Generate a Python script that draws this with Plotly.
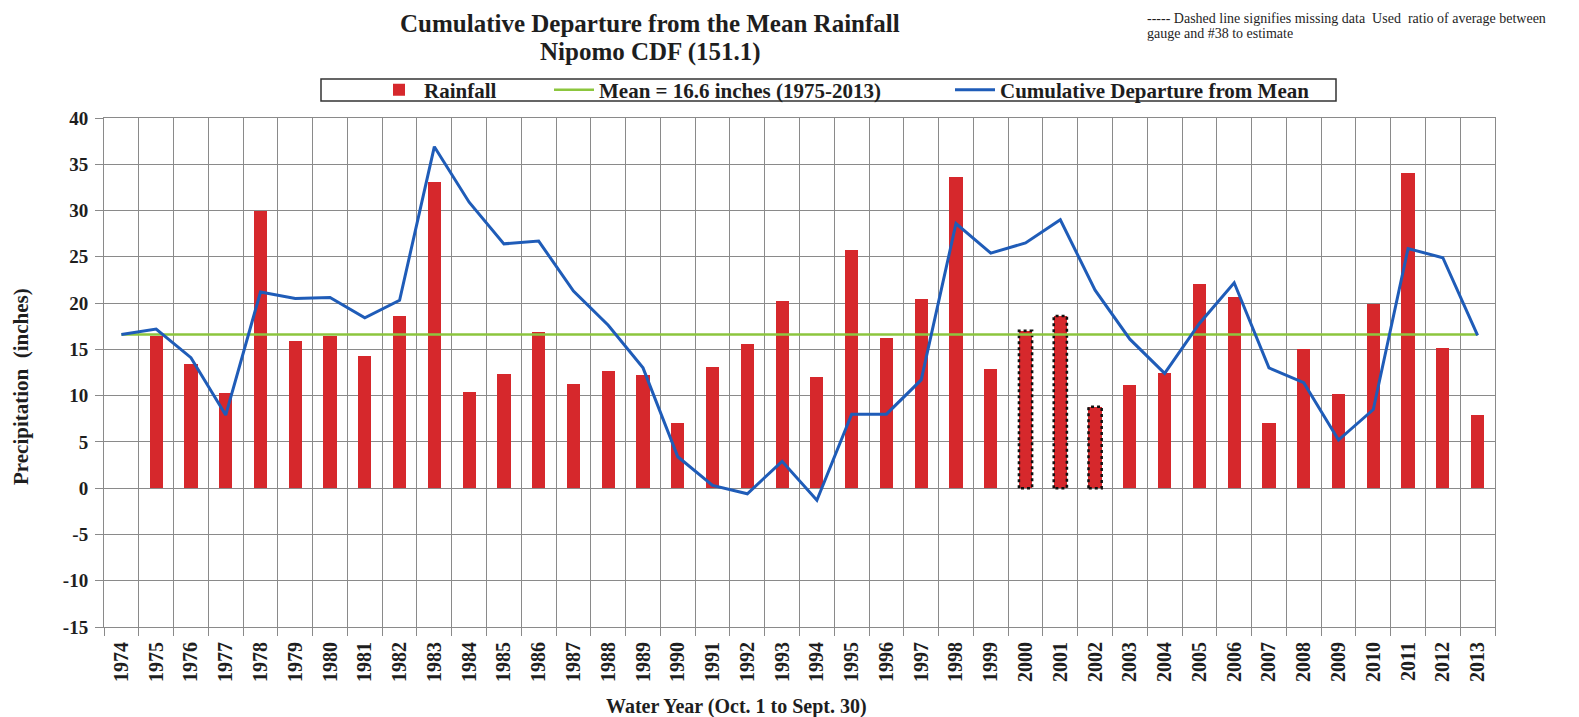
import plotly.graph_objects as go

years = [str(y) for y in range(1974, 2014)]
# Rainfall per water year (1974 has no bar)
rain_years = years[1:]
rainfall = [16.4, 13.4, 10.3, 30.0, 15.9, 16.4, 14.3, 18.6, 33.1, 10.4,
            12.3, 16.9, 11.3, 12.7, 12.2, 7.0, 13.1, 15.6, 20.2, 12.0,
            25.7, 16.2, 20.4, 33.6, 12.9, 17.0, 18.6, 8.8, 11.2, 12.4,
            22.1, 20.7, 7.0, 15.0, 10.2, 19.9, 34.1, 15.2, 7.9]
mean_value = 16.6
cumulative = [16.6, 17.2, 14.1, 7.9, 21.2, 20.5, 20.6, 18.4, 20.3, 36.9,
              30.9, 26.4, 26.7, 21.3, 17.6, 13.0, 3.4, 0.3, -0.6, 2.9,
              -1.3, 8.0, 8.0, 11.7, 28.6, 25.4, 26.5, 29.0, 21.4, 16.1,
              12.4, 17.8, 22.2, 13.0, 11.4, 5.2, 8.5, 25.9, 24.9, 16.5]
missing_years = ["2000", "2001", "2002"]
y_ticks = list(range(-15, 45, 5))

SERIF = "Liberation Serif"
TXT = "#1e1e1e"
W_FIG, H_FIG = 1579, 717
L, R, T, B = 96, 1487, 110, 619
PW, PH = R - L, B - T


def xp(px):
    return (px - L) / PW


def yp(py):
    return (B - py) / PH


idx = {y: i for i, y in enumerate(years)}
bar_x = [idx[y] for y in rain_years]
BW = 0.38

fig = go.Figure()
fig.add_trace(go.Bar(x=bar_x, y=rainfall, name="<b>Rainfall</b>", width=BW,
                     marker=dict(color="#d6282c", line=dict(width=0)),
                     legend="legend"))

# dashed outlines for estimated (missing-data) years
ox, oy = [], []
for y in missing_years:
    i = idx[y]
    v = rainfall[rain_years.index(y)]
    ox += [i - BW / 2, i - BW / 2, i + BW / 2, i + BW / 2, i - BW / 2, None]
    oy += [0, v, v, 0, 0, None]
fig.add_trace(go.Scatter(x=ox, y=oy, mode="lines", showlegend=False,
                         line=dict(color="#111111", width=2.5, dash="dot"),
                         hoverinfo="skip"))

fig.add_trace(go.Scatter(x=list(range(len(years))), y=[mean_value] * len(years),
                         mode="lines", name="<b>Mean = 16.6 inches (1975-2013)</b>",
                         line=dict(color="#8cc63e", width=2.5), legend="legend2"))
fig.add_trace(go.Scatter(x=list(range(len(years))), y=cumulative, mode="lines",
                         name="<b>Cumulative Departure from Mean</b>",
                         line=dict(color="#1f5cb8", width=3), legend="legend3"))

grid = "#8a8a8a"
fig.update_xaxes(
    range=[-0.5, len(years) - 0.5],
    tickmode="array", tickvals=list(range(len(years))),
    ticktext=[f"<b>{y}</b>" for y in years],
    tickangle=-90, ticks="", showgrid=False, ticklabelstandoff=6,
    tickfont=dict(family=SERIF, size=20, color=TXT),
    showline=True, linecolor=grid, linewidth=1, mirror=True,
    zeroline=False,
    minor=dict(tick0=0.5, dtick=1, showgrid=True, gridcolor=grid, gridwidth=1,
               ticks="outside", ticklen=8, tickcolor=grid),
)
fig.update_yaxes(
    range=[-15, 40], tickmode="array", tickvals=y_ticks,
    ticktext=[f"<b>{v}</b>" for v in y_ticks],
    showgrid=True, gridcolor=grid, gridwidth=1, zeroline=False,
    ticks="outside", ticklen=8, tickcolor=grid, ticklabelstandoff=3,
    showline=True, linecolor=grid, linewidth=1, mirror=True,
    tickfont=dict(family=SERIF, size=19, color=TXT),
)

leg_common = dict(orientation="h", yanchor="middle", xanchor="left",
                  bgcolor="rgba(0,0,0,0)", borderwidth=0,
                  font=dict(family=SERIF, size=21, color=TXT), itemwidth=40)
LEG_Y = yp(82)

fig.update_layout(
    width=W_FIG, height=H_FIG,
    margin=dict(l=L, r=W_FIG - R, t=T, b=H_FIG - B),
    paper_bgcolor="white", plot_bgcolor="white",
    bargap=0,
    showlegend=True,
    legend=dict(x=xp(366), y=LEG_Y, **leg_common),
    legend2=dict(x=xp(541), y=LEG_Y, **leg_common),
    legend3=dict(x=xp(942), y=LEG_Y, **leg_common),
    shapes=[dict(type="rect", xref="paper", yref="paper",
                 x0=xp(313), x1=xp(1328), y0=yp(93), y1=yp(71),
                 line=dict(color="#333333", width=1.5), fillcolor="rgba(0,0,0,0)")],
    annotations=[
        dict(text="<b>Cumulative Departure from the Mean Rainfall</b>", xref="paper", yref="paper",
             x=xp(642), y=yp(15), xanchor="center", yanchor="middle", showarrow=False,
             borderpad=0, font=dict(family=SERIF, size=25, color=TXT)),
        dict(text="<b>Nipomo CDF (151.1)</b>", xref="paper", yref="paper",
             x=xp(642), y=yp(44), xanchor="center", yanchor="middle", showarrow=False,
             borderpad=0, font=dict(family=SERIF, size=25, color=TXT)),
        dict(text="----- Dashed line signifies missing data  Used  ratio of average between",
             xref="paper", yref="paper", x=xp(1138), y=yp(11),
             xanchor="left", yanchor="middle", align="left", showarrow=False,
             borderpad=0, font=dict(family=SERIF, size=14, color=TXT)),
        dict(text="gauge and #38 to estimate",
             xref="paper", yref="paper", x=xp(1138), y=yp(25),
             xanchor="left", yanchor="middle", align="left", showarrow=False,
             borderpad=0, font=dict(family=SERIF, size=14, color=TXT)),
        dict(text="<b>Water Year (Oct. 1 to Sept. 30)</b>", xref="paper", yref="paper",
             x=xp(728), y=yp(698), xanchor="center", yanchor="middle", showarrow=False,
             font=dict(family=SERIF, size=20, color=TXT)),
        dict(text="<b>Precipitation  (inches)</b>", xref="paper", yref="paper",
             x=xp(13), y=yp(379), xanchor="center", yanchor="middle", showarrow=False,
             textangle=-90, font=dict(family=SERIF, size=21, color=TXT)),
    ],
)

fig.write_html("out.html")
